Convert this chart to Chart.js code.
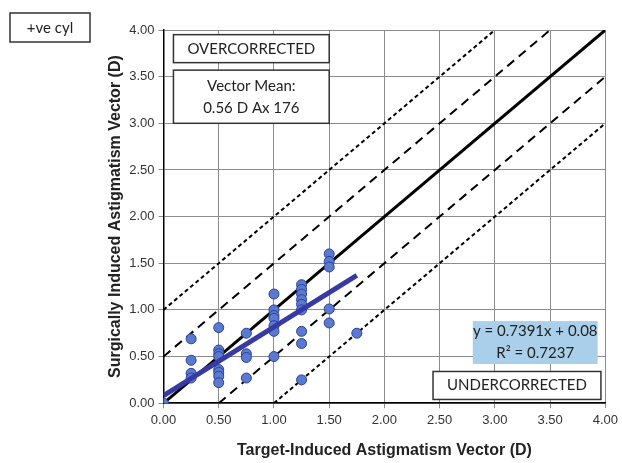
<!DOCTYPE html>
<html>
<head>
<meta charset="utf-8">
<script src="https://cdn.jsdelivr.net/npm/chart.js@4.4.1/dist/chart.umd.min.js"></script>
<style>
  html, body { margin: 0; padding: 0; background: #fff; }
  #wrap { width: 622px; height: 463px; }
</style>
</head>
<body>
<div id="wrap"><canvas id="sia"></canvas></div>
<script>
// target-induced (x) vs surgically induced (y) astigmatism, dioptres
const targetVals = [0,
  0.25, 0.25, 0.25, 0.25,
  0.5, 0.5, 0.5, 0.5, 0.5, 0.5, 0.5, 0.5,
  0.75, 0.75, 0.75, 0.75,
  1.0, 1.0, 1.0, 1.0, 1.0, 1.0, 1.0,
  1.25, 1.25, 1.25, 1.25, 1.25, 1.25, 1.25, 1.25, 1.25,
  1.5, 1.5, 1.5, 1.5, 1.5,
  1.75];
const surgicalVals = [0,
  0.69, 0.46, 0.32, 0.27,
  0.81, 0.57, 0.53, 0.50, 0.36, 0.33, 0.29, 0.22,
  0.75, 0.53, 0.49, 0.27,
  1.17, 1.00, 0.94, 0.91, 0.83, 0.77, 0.50,
  1.27, 1.22, 1.17, 1.11, 1.06, 1.00, 0.77, 0.64, 0.25,
  1.60, 1.52, 1.46, 1.01, 0.86,
  0.75];

// fitted line y = 0.7391x + 0.08, as drawn
const trendX = [0, 1.75];
const trendY = [0.08, 1.37];

// reference lines (endpoints inside the 0..4 box)
const identityX = [0, 4];
const identityY = [0, 4];
const plus1X = [0, 3];   const plus1Y = [1, 4];
const plus05X = [0, 3.5]; const plus05Y = [0.5, 4];
const minus05X = [0.5, 4]; const minus05Y = [0, 3.5];
const minus1X = [1, 4];  const minus1Y = [0, 3];

const tickVals = [0, 0.5, 1, 1.5, 2, 2.5, 3, 3.5, 4];

function pts(xs, ys) { return xs.map((x, i) => ({ x: x, y: ys[i] })); }

function lineSet(xs, ys, width, dash) {
  return {
    type: 'line', data: pts(xs, ys), borderColor: '#000', borderWidth: width,
    borderDash: dash, pointRadius: 0, fill: false, tension: 0, order: 3
  };
}

// text boxes in data coordinates
const boxes = [
  { x0: 0.09, x1: 1.5, y0: 3.65, y1: 3.95, lines: ['OVERCORRECTED'], fill: '#fff' },
  { x0: 0.09, x1: 1.5, y0: 3.0, y1: 3.57, lines: ['Vector Mean:', '0.56 D Ax 176'], fill: '#fff' },
  { x0: 2.8, x1: 3.93, y0: 0.42, y1: 0.88, lines: ['y = 0.7391x + 0.08', 'R\u00b2 = 0.7237'], fill: '#a9cfea', noBorder: true },
  { x0: 2.44, x1: 3.96, y0: 0.04, y1: 0.34, lines: ['UNDERCORRECTED'], fill: '#fff' }
];

const boxPlugin = {
  id: 'boxes',
  afterDraw(chart) {
    const ctx = chart.ctx;
    const xs = chart.scales.x, ys = chart.scales.y;
    ctx.save();
    ctx.font = '15px Lato, "Open Sans", sans-serif';
    ctx.textAlign = 'center';
    ctx.textBaseline = 'middle';
    boxes.forEach(b => {
      const l = xs.getPixelForValue(b.x0), r = xs.getPixelForValue(b.x1);
      const t = ys.getPixelForValue(b.y1), bt = ys.getPixelForValue(b.y0);
      ctx.fillStyle = b.fill;
      ctx.fillRect(l, t, r - l, bt - t);
      if (!b.noBorder) {
        ctx.strokeStyle = '#333';
        ctx.lineWidth = 1.5;
        ctx.strokeRect(l, t, r - l, bt - t);
      }
      ctx.fillStyle = '#222';
      const lh = 22;
      const cy = (t + bt) / 2 - (b.lines.length - 1) * lh / 2;
      b.lines.forEach((s, i) => ctx.fillText(s, (l + r) / 2, cy + i * lh));
    });
    // "+ve cyl" label sits outside the plot
    ctx.fillStyle = '#fff';
    ctx.fillRect(10, 13, 80, 29);
    ctx.strokeStyle = '#333';
    ctx.lineWidth = 1.5;
    ctx.strokeRect(10, 13, 80, 29);
    ctx.fillStyle = '#222';
    ctx.fillText('+ve cyl', 50, 28);
    ctx.restore();
  }
};

new Chart(document.getElementById('sia'), {
  type: 'scatter',
  data: {
    datasets: [
      lineSet(identityX, identityY, 3, []),
      lineSet(plus1X, plus1Y, 2, [4, 3]),
      lineSet(plus05X, plus05Y, 2, [9, 6]),
      lineSet(minus05X, minus05Y, 2, [9, 6]),
      lineSet(minus1X, minus1Y, 2, [4, 3]),
      {
        data: pts(targetVals, surgicalVals),
        pointRadius: 5, pointBackgroundColor: '#5a7ad0', pointBorderColor: '#2d3f9a',
        pointBorderWidth: 1, order: 2
      },
      {
        type: 'line', data: pts(trendX, trendY), borderColor: '#383aa4', borderWidth: 5,
        pointRadius: 0, fill: false, order: 1
      }
    ]
  },
  options: {
    responsive: true,
    maintainAspectRatio: false,
    animation: false,
    layout: { padding: { left: 98, top: 30, right: 14, bottom: 3 } },
    plugins: { legend: { display: false }, tooltip: { enabled: false } },
    scales: {
      x: {
        type: 'linear', min: 0, max: 4,
        afterBuildTicks: s => { s.ticks = tickVals.map(v => ({ value: v })); },
        ticks: { callback: v => v.toFixed(2), color: '#333', font: { family: 'Liberation Sans, Arial', size: 13 }, padding: 4 },
        grid: { color: '#8c8c8c', lineWidth: 1, tickLength: 5 },
        border: { color: '#000', width: 1.5 },
        title: { display: true, text: 'Target-Induced Astigmatism Vector (D)', color: '#222',
          font: { family: 'Liberation Sans, Arial', size: 16, weight: 'bold' }, padding: { top: 9, bottom: 0 } }
      },
      y: {
        type: 'linear', min: 0, max: 4,
        afterBuildTicks: s => { s.ticks = tickVals.map(v => ({ value: v })); },
        ticks: { callback: v => v.toFixed(2), color: '#333', font: { family: 'Liberation Sans, Arial', size: 13 }, padding: 4 },
        grid: { color: '#8c8c8c', lineWidth: 1, tickLength: 5 },
        border: { color: '#000', width: 1.5 },
        title: { display: true, text: 'Surgically Induced Astigmatism Vector (D)', color: '#222',
          font: { family: 'Liberation Sans, Arial', size: 16, weight: 'bold' }, padding: { top: 8, bottom: 0 } }
      }
    }
  },
  plugins: [boxPlugin]
});
</script>
</body>
</html>
